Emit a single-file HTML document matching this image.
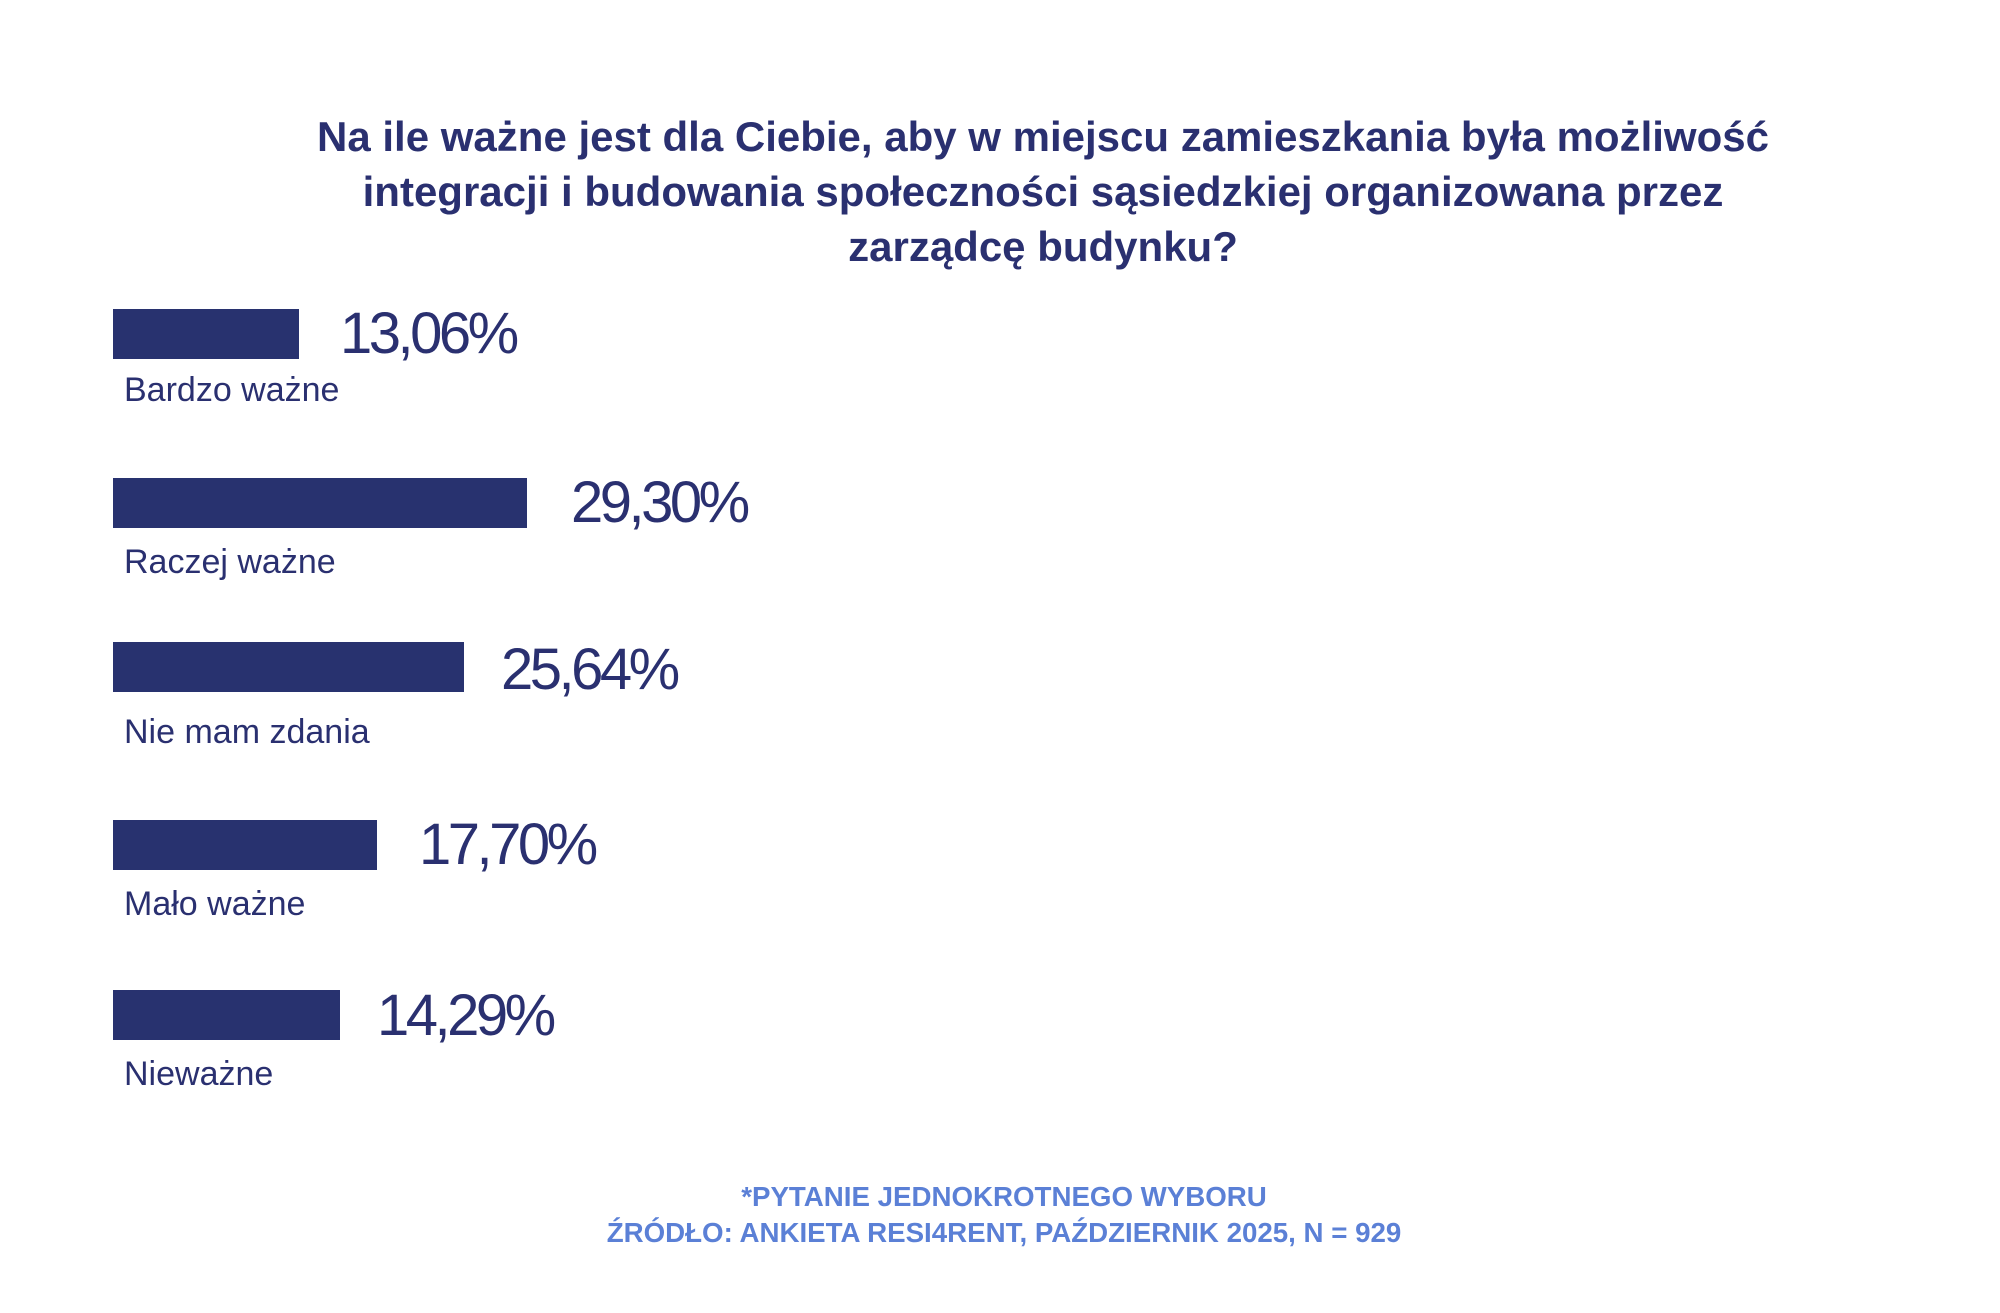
<!DOCTYPE html>
<html><head><meta charset="utf-8"><style>
body{margin:0;width:2000px;height:1313px;background:#fff;position:relative;overflow:hidden;font-family:"Liberation Sans",sans-serif;color:#2a3070}
.t{position:absolute;left:0;width:2086px;text-align:center;font-weight:bold;font-size:42px;white-space:nowrap}
.bar{position:absolute;left:113px;height:50px;background:#28326f}
.p{position:absolute;font-size:58px;letter-spacing:-3.5px;line-height:1;white-space:nowrap}
.l{position:absolute;left:124px;font-size:34px;line-height:1;white-space:nowrap}
.f{position:absolute;left:0;width:2008px;text-align:center;font-weight:bold;font-size:27.7px;color:#5b80d6;white-space:nowrap}
</style></head><body>
<div class="t" style="top:113px">Na ile ważne jest dla Ciebie, aby w miejscu zamieszkania była możliwość</div>
<div class="t" style="top:168px">integracji i budowania społeczności sąsiedzkiej organizowana przez</div>
<div class="t" style="top:223px">zarządcę budynku?</div>

<div class="bar" style="top:309px;width:186px"></div>
<div class="p" style="left:340px;top:305px">13,06%</div>
<div class="l" style="top:373px">Bardzo ważne</div>

<div class="bar" style="top:478px;width:414px"></div>
<div class="p" style="left:571px;top:474px">29,30%</div>
<div class="l" style="top:545px">Raczej ważne</div>

<div class="bar" style="top:642px;width:351px"></div>
<div class="p" style="left:501px;top:641px">25,64%</div>
<div class="l" style="top:715px">Nie mam zdania</div>

<div class="bar" style="top:820px;width:264px"></div>
<div class="p" style="left:419px;top:816px">17,70%</div>
<div class="l" style="top:887px">Mało ważne</div>

<div class="bar" style="top:990px;width:227px"></div>
<div class="p" style="left:377px;top:987px">14,29%</div>
<div class="l" style="top:1057px">Nieważne</div>

<div class="f" style="top:1181px">*PYTANIE JEDNOKROTNEGO WYBORU</div>
<div class="f" style="top:1217px">ŹRÓDŁO: ANKIETA RESI4RENT, PAŹDZIERNIK 2025, N = 929</div>
</body></html>
